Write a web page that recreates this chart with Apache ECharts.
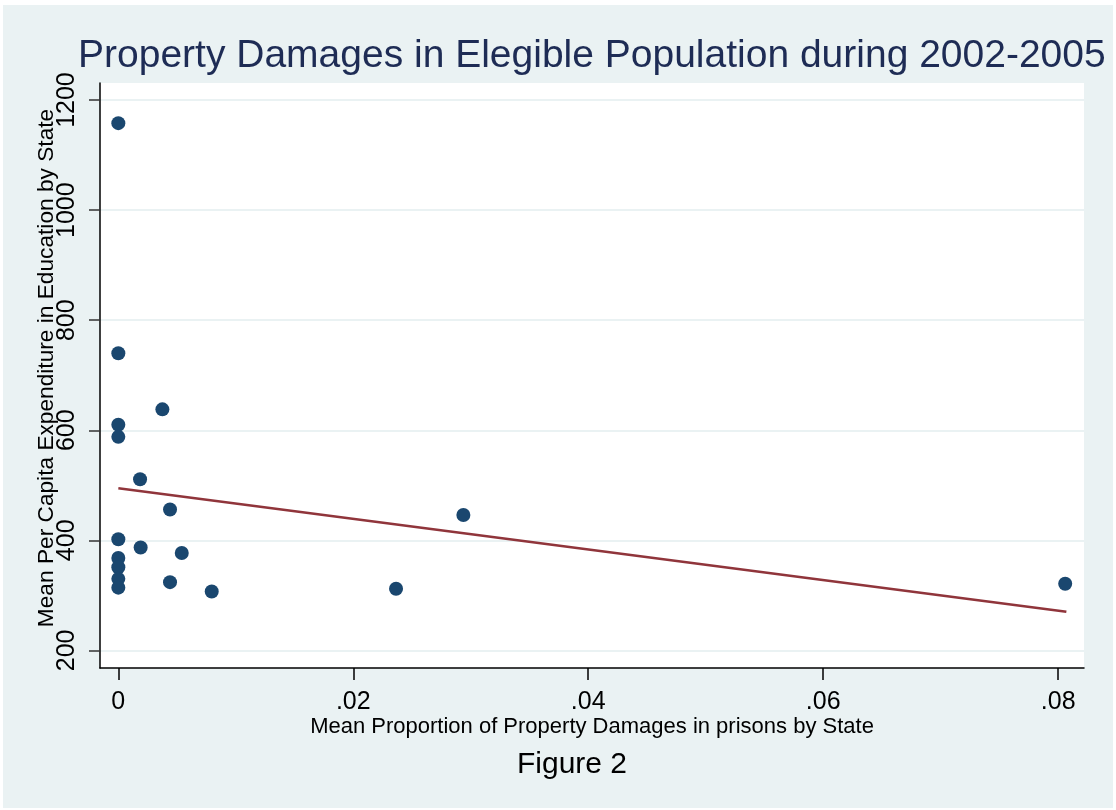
<!DOCTYPE html>
<html>
<head>
<meta charset="utf-8">
<script src="https://cdn.jsdelivr.net/npm/echarts@6/dist/echarts.min.js"></script>
<style>
html,body{margin:0;padding:0;background:#ffffff;}
#c{width:1116px;height:810px;}
</style>
</head>
<body>
<div id="c"></div>
<script>
// Data
const damageShare = [0, 0, 0.00375, 0, 0, 0.00185, 0.0044, 0, 0.0019, 0.0054, 0, 0, 0, 0, 0.0044, 0.00795, 0.02364, 0.02937, 0.0806];
const eduSpending = [1158, 740, 638, 610, 588, 511, 456, 402, 387, 377, 368, 351, 330, 314, 324, 307, 312, 446, 321];
const fitX = [0, 0.0807];
const fitY = [494.5, 270.4];
const xTicks = [0, 0.02, 0.04, 0.06, 0.08];
const yTicks = [200, 400, 600, 800, 1000, 1200];

const titleText = 'Property Damages in Elegible Population during 2002-2005';
const xName = 'Mean Proportion of Property Damages in prisons by State';
const yName = 'Mean Per Capita Expenditure in Education by State';
const noteText = 'Figure 2';

const chart = echarts.init(document.getElementById('c'), null, {renderer: 'canvas'});
const font = '"Liberation Sans", Arial, Helvetica, sans-serif';

const option = {
  backgroundColor: '#ffffff',
  animation: false,
  textStyle: {fontFamily: font},
  grid: {left: 100, top: 83, right: 32, bottom: 142, show: true, backgroundColor: '#ffffff', borderWidth: 0, containLabel: false},
  graphic: [
    {type: 'rect', z: -100, silent: true, shape: {x: 3, y: 5, width: 1110, height: 803}, style: {fill: '#EAF2F3'}},
    {type: 'text', z: 10, x: 78, y: 56, style: {text: titleText, fill: '#1E2C55', font: '39px ' + font, textAlign: 'left', textVerticalAlign: 'middle'}},
    {type: 'text', z: 10, x: 592, y: 727, style: {text: xName, fill: '#000000', font: '22px ' + font, textAlign: 'center', textVerticalAlign: 'middle'}},
    {type: 'text', z: 10, x: 47, y: 368, rotation: Math.PI / 2, style: {text: yName, fill: '#000000', font: '22.7px ' + font, textAlign: 'center', textVerticalAlign: 'middle'}},
    {type: 'text', z: 10, x: 572, y: 765, style: {text: noteText, fill: '#000000', font: '30px ' + font, textAlign: 'center', textVerticalAlign: 'middle'}}
  ],
  xAxis: {
    type: 'value', min: -0.00156, max: 0.0822,
    axisLine: {show: true, onZero: false, lineStyle: {color: '#000000', width: 1.5}},
    axisTick: {show: true, length: 12, customValues: xTicks, lineStyle: {color: '#000000', width: 1.5}},
    axisLabel: {show: true, customValues: xTicks, margin: 22, color: '#000000', fontSize: 25, fontFamily: font,
      formatter: function (v) { return v === 0 ? '0' : v.toFixed(2).replace(/^0/, ''); }},
    splitLine: {show: false}
  },
  yAxis: {
    type: 'value', min: 168, max: 1231,
    axisLine: {show: true, onZero: false, lineStyle: {color: '#000000', width: 1.5}},
    axisTick: {show: true, length: 11, customValues: yTicks, lineStyle: {color: '#333333', width: 1.5}},
    axisLabel: {show: true, customValues: yTicks, rotate: 90, margin: 20, color: '#000000', fontSize: 25, fontFamily: font,
      formatter: function (v) { return String(v); }},
    splitLine: {show: true, lineStyle: {color: '#EAF2F3', width: 2}}
  },
  series: [
    {
      type: 'line', data: fitX.map((x, i) => [x, fitY[i]]), symbol: 'none', z: 3,
      lineStyle: {color: '#90353B', width: 2.5}
    },
    {
      type: 'scatter', data: damageShare.map((x, i) => [x, eduSpending[i]]), symbol: 'circle', symbolSize: 14, z: 4,
      itemStyle: {color: '#1A476F', opacity: 1}
    }
  ]
};
chart.setOption(option);
</script>
</body>
</html>
